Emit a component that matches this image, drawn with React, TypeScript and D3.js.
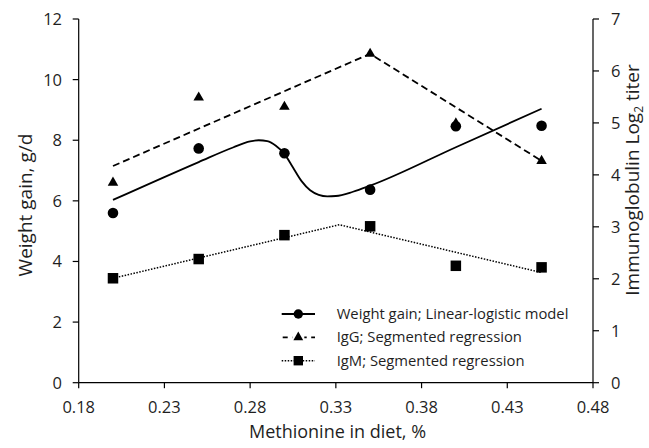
import React from "react";
import * as d3 from "d3";

// Methionine levels in the diet (%)
const methionine = [0.2, 0.25, 0.3, 0.35, 0.4, 0.45];
// Observed responses
const weightGain = [5.6, 7.73, 7.57, 6.37, 8.46, 8.48];
const igG = [3.85, 5.49, 5.31, 6.33, 4.99, 4.27];
const igM = [2.01, 2.38, 2.84, 3.01, 2.25, 2.22];

// Fitted curves
const weightFitX = [0.2, 0.25, 0.27, 0.28, 0.285, 0.29, 0.295, 0.3, 0.305, 0.31, 0.315, 0.32, 0.325, 0.33, 0.34, 0.35, 0.4, 0.45];
const weightFitY = [6.03, 7.28, 7.76, 7.96, 8.0, 7.97, 7.82, 7.55, 7.1, 6.65, 6.35, 6.2, 6.15, 6.16, 6.3, 6.5, 7.77, 9.04];
const igGFitX = [0.2, 0.35, 0.45];
const igGFitY = [4.17, 6.33, 4.27];
const igMFitX = [0.2, 0.332, 0.45];
const igMFitY = [2.01, 3.04, 2.12];

const xTicks = [0.18, 0.23, 0.28, 0.33, 0.38, 0.43, 0.48];
const leftTicks = [0, 2, 4, 6, 8, 10, 12];
const rightTicks = [0, 1, 2, 3, 4, 5, 6, 7];

const legendLabels = [
  "Weight gain; Linear-logistic model",
  "IgG; Segmented regression",
  "IgM; Segmented regression",
];

const W = 649;
const H = 448;
const FONT = "'Open Sans', 'Liberation Sans', sans-serif";
const TEXT = "#1f1f1f";

export default function App() {
  const x = d3.scaleLinear().domain([0.18, 0.48]).range([78.7, 593]);
  const yL = d3.scaleLinear().domain([0, 12]).range([382.7, 19]);
  const yR = d3.scaleLinear().domain([0, 7]).range([382.7, 19]);

  const weightLine = d3
    .line<number>()
    .x((_, i) => x(weightFitX[i]))
    .y((d) => yL(d))
    .curve(d3.curveMonotoneX)(weightFitY) as string;
  const igGLine = d3
    .line<number>()
    .x((_, i) => x(igGFitX[i]))
    .y((d) => yR(d))(igGFitY) as string;
  const igMLine = d3
    .line<number>()
    .x((_, i) => x(igMFitX[i]))
    .y((d) => yR(d))(igMFitY) as string;

  const tri = d3.symbol(d3.symbolTriangle, 48)() as string;
  const circleR = 5.3;
  const sq = 10.5;

  const x0 = x.range()[0];
  const x1 = x.range()[1];
  const yBase = yL.range()[0];
  const yTop = yL.range()[1];

  const legendY = [314, 337.3, 360.7];
  const lgX0 = 281.7;
  const lgX1 = 315;
  const lgMid = 298.3;

  return (
    <svg
      width={W}
      height={H}
      style={{ position: "absolute", left: 0, top: 0, background: "#fff" }}
      fontFamily={FONT}
    >
      <rect width={W} height={H} fill="#fff" />

      {/* axes */}
      <g stroke="#000" strokeWidth={1.2} fill="none">
        <line x1={x0} x2={x0} y1={yTop} y2={yBase} />
        <line x1={x1} x2={x1} y1={yTop} y2={yBase} />
        <line x1={x0} x2={x1} y1={yBase} y2={yBase} />
        {xTicks.map((t) => (
          <line key={"xt" + t} x1={x(t)} x2={x(t)} y1={yBase} y2={yBase + 5.5} />
        ))}
        {leftTicks.map((t) => (
          <line key={"lt" + t} x1={x0 - 6} x2={x0} y1={yL(t)} y2={yL(t)} />
        ))}
        {rightTicks.map((t) => (
          <line key={"rt" + t} x1={x1} x2={x1 + 6} y1={yR(t)} y2={yR(t)} />
        ))}
      </g>

      {/* tick labels */}
      <g fill={TEXT} fontSize={16.5}>
        {xTicks.map((t) => (
          <text key={"xl" + t} x={x(t)} y={413} textAnchor="middle">
            {t.toFixed(2)}
          </text>
        ))}
        {leftTicks.map((t) => (
          <text key={"ll" + t} x={62} y={yL(t)} dy="0.36em" textAnchor="end">
            {t}
          </text>
        ))}
        {rightTicks.map((t) => (
          <text key={"rl" + t} x={611} y={yR(t)} dy="0.36em" textAnchor="start">
            {t}
          </text>
        ))}
      </g>

      {/* axis titles */}
      <g fill={TEXT}>
        <text x={337.5} y={438} textAnchor="middle" fontSize={18}>
          Methionine in diet, %
        </text>
        <text transform="translate(31.5,205) rotate(-90)" textAnchor="middle" fontSize={19}>
          Weight gain, g/d
        </text>
        <text transform="translate(639,180) rotate(-90)" textAnchor="middle" fontSize={19}>
          Immunoglobulin Log
          <tspan fontSize={12} dy={4}>2</tspan>
          <tspan dy={-4}> titer</tspan>
        </text>
      </g>

      {/* fitted lines */}
      <path d={weightLine} fill="none" stroke="#000" strokeWidth={1.8} />
      <path d={igGLine} fill="none" stroke="#000" strokeWidth={1.8} strokeDasharray="7 4" />
      <path d={igMLine} fill="none" stroke="#000" strokeWidth={1.5} strokeDasharray="1.5 1.5" />

      {/* observed points */}
      <g fill="#000">
        {methionine.map((m, i) => (
          <circle key={"wg" + i} cx={x(m)} cy={yL(weightGain[i])} r={circleR} />
        ))}
        {methionine.map((m, i) => (
          <path key={"g" + i} d={tri} transform={`translate(${x(m)},${yR(igG[i])})`} />
        ))}
        {methionine.map((m, i) => (
          <rect key={"m" + i} x={x(m) - sq / 2} y={yR(igM[i]) - sq / 2} width={sq} height={sq} />
        ))}
      </g>

      {/* legend */}
      <g>
        <line x1={lgX0} x2={lgX1} y1={legendY[0]} y2={legendY[0]} stroke="#000" strokeWidth={1.8} />
        <circle cx={lgMid} cy={legendY[0]} r={4.7} fill="#000" />
        <line x1={lgX0} x2={lgX1} y1={legendY[1]} y2={legendY[1]} stroke="#000" strokeWidth={1.8} strokeDasharray="5 4.5" strokeDashoffset={-1} />
        <rect x={lgMid - 6} y={legendY[1] - 6} width={12} height={12} fill="#fff" />
        <path d={d3.symbol(d3.symbolTriangle, 42)() as string} transform={`translate(${lgMid},${legendY[1]})`} fill="#000" />
        <line x1={lgX0} x2={lgX1} y1={legendY[2]} y2={legendY[2]} stroke="#000" strokeWidth={1.5} strokeDasharray="1.5 1.5" />
        <rect x={lgMid - 4.7} y={legendY[2] - 4.7} width={9.4} height={9.4} fill="#000" />
        <g fill={TEXT} fontSize={14.8}>
          {legendLabels.map((l, i) => (
            <text key={l} x={336.7} y={legendY[i]} dy="0.35em">
              {l}
            </text>
          ))}
        </g>
      </g>
    </svg>
  );
}
